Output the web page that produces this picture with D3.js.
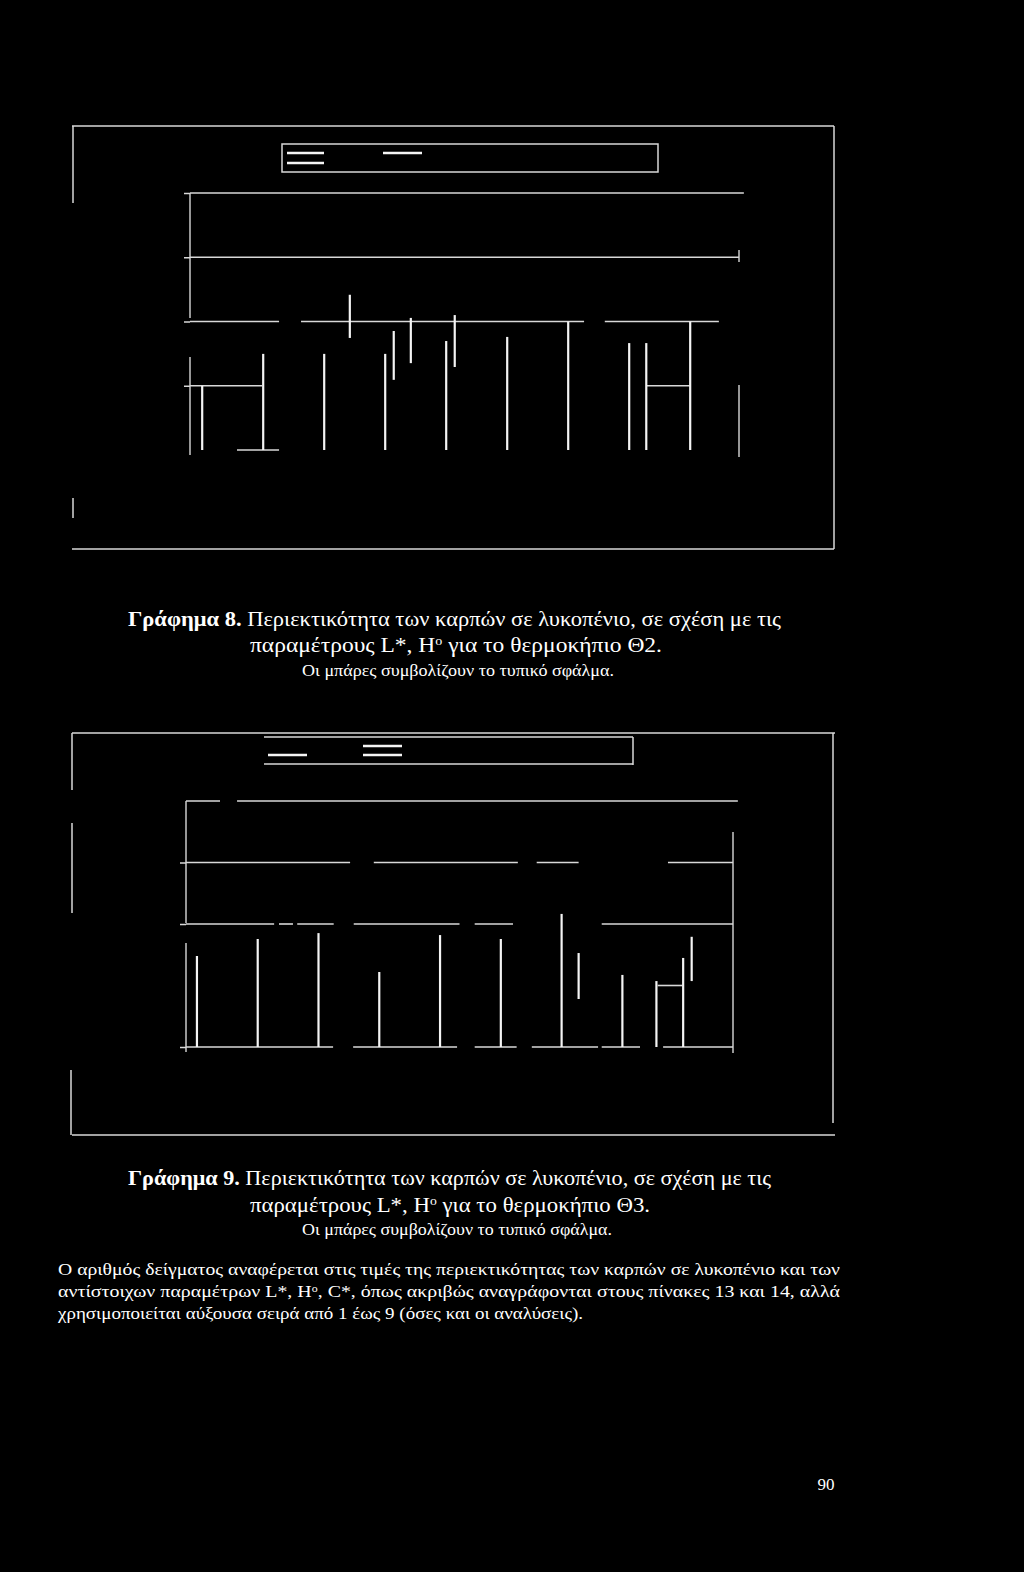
<!DOCTYPE html>
<html>
<head>
<meta charset="utf-8">
<script src="https://cdn.jsdelivr.net/npm/d3@7"></script>
<style>
body { margin: 0; background: #000; }
svg { display: block; background: #000; }
text { fill: #fff; font-family: "Liberation Serif", "Times New Roman", serif; }
</style>
</head>
<body>
<svg width="1024" height="1572"></svg>
<script>
const samples = [1, 2, 3, 4, 5, 6, 7, 8, 9];
const seriesKeys = ["Λυκοπένιο", "L*", "H°"];

// Γράφημα 8 (Θ2) -- only the parts that survive in the scan
const g8Ticks = [25, 50, 75, 100];
// [value, from, to] in sample units
const g8Grid = [
    [100, 0, 9.08],
    [75, 0, 9],
    [50, 0, 1.46], [50, 1.82, 6.46], [50, 6.8, 8.67],
    [25, 0, 1.18], [25, 7.49, 8.21],
    [0, 0.77, 1.46]
];
const g8LeftAxis = [[51.4, 100], [-1.9, 36.2]];
const g8RightAxis = [[73.2, 77.8], [-2.7, 25.3]];
// [sample, series, low, high] : left edges of the bars
const g8Edges = [
    [1, 0, 0, 25], [2, 0, 0, 37.4], [3, 0, 0, 37.4], [4, 0, 0, 37.4], [5, 0, 0, 42.4],
    [6, 0, 0, 44], [7, 0, 0, 50], [8, 0, 0, 41.6], [8, 1, 0, 41.6], [9, 0, 0, 50]
];
// [sample, series, mean, standard error]
const g8Errors = [[3, 1, 52, 8.4], [4, 0, 36.8, 9.5], [4, 1, 42.6, 8.8], [5, 0, 42.4, 10.1]];

// Γράφημα 9 (Θ3)
const g9Ticks = [0, 50, 75];
const g9Grid = [
    [100, 0, 0.56], [100, 0.84, 9.08],
    [75, 0, 2.7], [75, 3.09, 5.46], [75, 5.77, 6.46], [75, 7.93, 9],
    [50, 0, 1.45], [50, 1.53, 1.76], [50, 1.83, 2.43], [50, 2.76, 4.5], [50, 4.75, 5.38], [50, 6.84, 9],
    [25, 7.76, 8.17],
    [0, 0, 2.42], [0, 2.75, 4.46], [0, 4.75, 5.44], [0, 5.69, 6.78], [0, 6.84, 7.47], [0, 7.85, 9]
];
const g9LeftAxis = [[50.4, 100], [-2, 42.3]];
const g9RightAxis = [[-2.4, 87.4]];
const g9Edges = [
    [1, 0, 0, 37], [2, 0, 0, 43.9], [3, 0, 0, 46.3], [4, 0, 0, 30.5], [5, 0, 0, 45.5],
    [6, 0, 0, 43.9], [7, 0, 0, 54.1], [7, 1, 19.5, 38.2], [8, 0, 0, 29.3], [8, 2, 0, 26.8], [9, 0, 0, 36.2]
];
const g9Errors = [[9, 0, 35.8, 9.0]];

const svg = d3.select("svg");
const ink = "#f4f4f4";
const dim = "#d8d8d8";

function seg(g, x1, y1, x2, y2, w, c) {
    g.append("line")
        .attr("x1", x1).attr("y1", y1)
        .attr("x2", x2).attr("y2", y2)
        .attr("stroke", c || dim)
        .attr("stroke-width", w || 1.5);
}

function drawChart(c) {
    const g = svg.append("g");

    const x = d3.scaleLinear()
        .domain([0, samples.length])
        .range([c.left, c.right]);

    const y = d3.scaleLinear()
        .domain([0, 100])
        .range([c.bottom, c.top]);

    // three bars per sample, in sample units
    const inner = d3.scaleBand()
        .domain(d3.range(seriesKeys.length))
        .range([c.start, c.start + 0.84]);

    // tick marks only, the labels are lost in the scan
    const yAxis = d3.axisLeft(y)
        .tickValues(c.ticks)
        .tickSize(6)
        .tickSizeOuter(0)
        .tickFormat("");

    const ax = g.append("g")
        .attr("transform", `translate(${c.left}, 0)`)
        .call(yAxis);
    ax.select(".domain").remove();
    ax.selectAll("line").attr("stroke", dim).attr("stroke-width", 1.5);

    g.selectAll(".grid")
        .data(c.grid)
        .join("line")
        .attr("x1", d => x(d[1]))
        .attr("x2", d => x(d[2]))
        .attr("y1", d => y(d[0]))
        .attr("y2", d => y(d[0]))
        .attr("stroke", dim)
        .attr("stroke-width", 1.6);

    g.selectAll(".laxis")
        .data(c.leftAxis)
        .join("line")
        .attr("x1", x(0)).attr("x2", x(0))
        .attr("y1", d => y(d[0]))
        .attr("y2", d => y(d[1]))
        .attr("stroke", dim)
        .attr("stroke-width", 1.4);

    g.selectAll(".raxis")
        .data(c.rightAxis)
        .join("line")
        .attr("x1", x(samples.length)).attr("x2", x(samples.length))
        .attr("y1", d => y(d[0]))
        .attr("y2", d => y(d[1]))
        .attr("stroke", dim)
        .attr("stroke-width", 1.4);

    g.selectAll(".edge")
        .data(c.edges)
        .join("line")
        .attr("x1", d => x(d[0] - 1 + inner(d[1])))
        .attr("x2", d => x(d[0] - 1 + inner(d[1])))
        .attr("y1", d => y(d[2]))
        .attr("y2", d => y(d[3]))
        .attr("stroke", ink)
        .attr("stroke-width", 2.2);

    g.selectAll(".err")
        .data(c.errors)
        .join("line")
        .attr("x1", d => x(d[0] - 1 + inner(d[1]) + inner.bandwidth() / 2))
        .attr("x2", d => x(d[0] - 1 + inner(d[1]) + inner.bandwidth() / 2))
        .attr("y1", d => y(d[2] - d[3]))
        .attr("y2", d => y(d[2] + d[3]))
        .attr("stroke", ink)
        .attr("stroke-width", 2.2);
}

// chart frames and legends (only what survives in the scan)
const frame = svg.append("g");
// Γράφημα 8
seg(frame, 72, 126, 834, 126);
seg(frame, 834, 126, 834, 549);
seg(frame, 72, 549, 834, 549);
seg(frame, 73, 126, 73, 203);
seg(frame, 73, 498, 73, 518);
frame.append("rect")
    .attr("x", 282).attr("y", 144)
    .attr("width", 376).attr("height", 28)
    .attr("fill", "none").attr("stroke", dim).attr("stroke-width", 1.5);
seg(frame, 287, 153, 324, 153, 2.6, ink);
seg(frame, 287, 163, 324, 163, 2.6, ink);
seg(frame, 383, 153, 422, 153, 2.6, ink);

// Γράφημα 9
seg(frame, 72, 733, 835, 733);
seg(frame, 833, 733, 833, 1123);
seg(frame, 72, 1135, 835, 1135);
seg(frame, 72, 733, 72, 790);
seg(frame, 72, 823, 72, 913);
seg(frame, 71, 1070, 71, 1135);
seg(frame, 264, 737, 633, 737);
seg(frame, 633, 737, 633, 765);
seg(frame, 264, 764, 633, 764);
seg(frame, 268, 755, 307, 755, 2.6, ink);
seg(frame, 363, 746, 402, 746, 2.6, ink);
seg(frame, 363, 755, 402, 755, 2.6, ink);

drawChart({
    left: 190, right: 739, top: 193, bottom: 450, start: 0.2,
    ticks: g8Ticks, grid: g8Grid, leftAxis: g8LeftAxis, rightAxis: g8RightAxis,
    edges: g8Edges, errors: g8Errors
});

drawChart({
    left: 186, right: 733, top: 801, bottom: 1047, start: 0.18,
    ticks: g9Ticks, grid: g9Grid, leftAxis: g9LeftAxis, rightAxis: g9RightAxis,
    edges: g9Edges, errors: g9Errors
});

// captions
function textLine(parts, x0, x1, y, size, anchor) {
    const t = svg.append("text")
        .attr("x", anchor === "start" ? x0 : (x0 + x1) / 2)
        .attr("y", y)
        .attr("text-anchor", anchor || "middle")
        .attr("font-size", size)
        .attr("textLength", x1 - x0)
        .attr("lengthAdjust", "spacingAndGlyphs");
    parts.forEach(p => {
        const s = t.append("tspan").text(p.t);
        if (p.b) s.attr("font-weight", "bold");
        if (p.sup) s.attr("baseline-shift", "super").attr("font-size", size * 0.6);
    });
}

textLine([{ t: "Γράφημα 8.", b: true }, { t: " Περιεκτικότητα των καρπών σε λυκοπένιο, σε σχέση με τις" }], 128, 781, 626, 21);
textLine([{ t: "παραμέτρους L*, H" }, { t: "o", sup: true }, { t: " για το θερμοκήπιο Θ2." }], 250, 662, 652, 21);
textLine([{ t: "Οι μπάρες συμβολίζουν το τυπικό σφάλμα." }], 302, 614, 676, 16);

textLine([{ t: "Γράφημα 9.", b: true }, { t: " Περιεκτικότητα των καρπών σε λυκοπένιο, σε σχέση με τις" }], 128, 771, 1185, 21);
textLine([{ t: "παραμέτρους L*, H" }, { t: "o", sup: true }, { t: "  για το θερμοκήπιο Θ3." }], 250, 650, 1212, 21);
textLine([{ t: "Οι μπάρες συμβολίζουν το τυπικό σφάλμα." }], 302, 612, 1235, 16);

textLine([{ t: "Ο αριθμός δείγματος αναφέρεται στις τιμές της περιεκτικότητας των καρπών σε λυκοπένιο και των" }], 58, 840, 1275, 17, "start");
textLine([{ t: "αντίστοιχων  παραμέτρων L*, H" }, { t: "o", sup: true }, { t: ", C*, όπως ακριβώς αναγράφονται στους πίνακες 13 και 14, αλλά" }], 58, 840, 1297, 17, "start");
textLine([{ t: "χρησιμοποιείται αύξουσα σειρά από 1 έως 9 (όσες και οι αναλύσεις)." }], 58, 583, 1319, 17, "start");

svg.append("text")
    .attr("x", 826).attr("y", 1490)
    .attr("text-anchor", "middle")
    .attr("font-size", 17)
    .text("90");
</script>
</body>
</html>
